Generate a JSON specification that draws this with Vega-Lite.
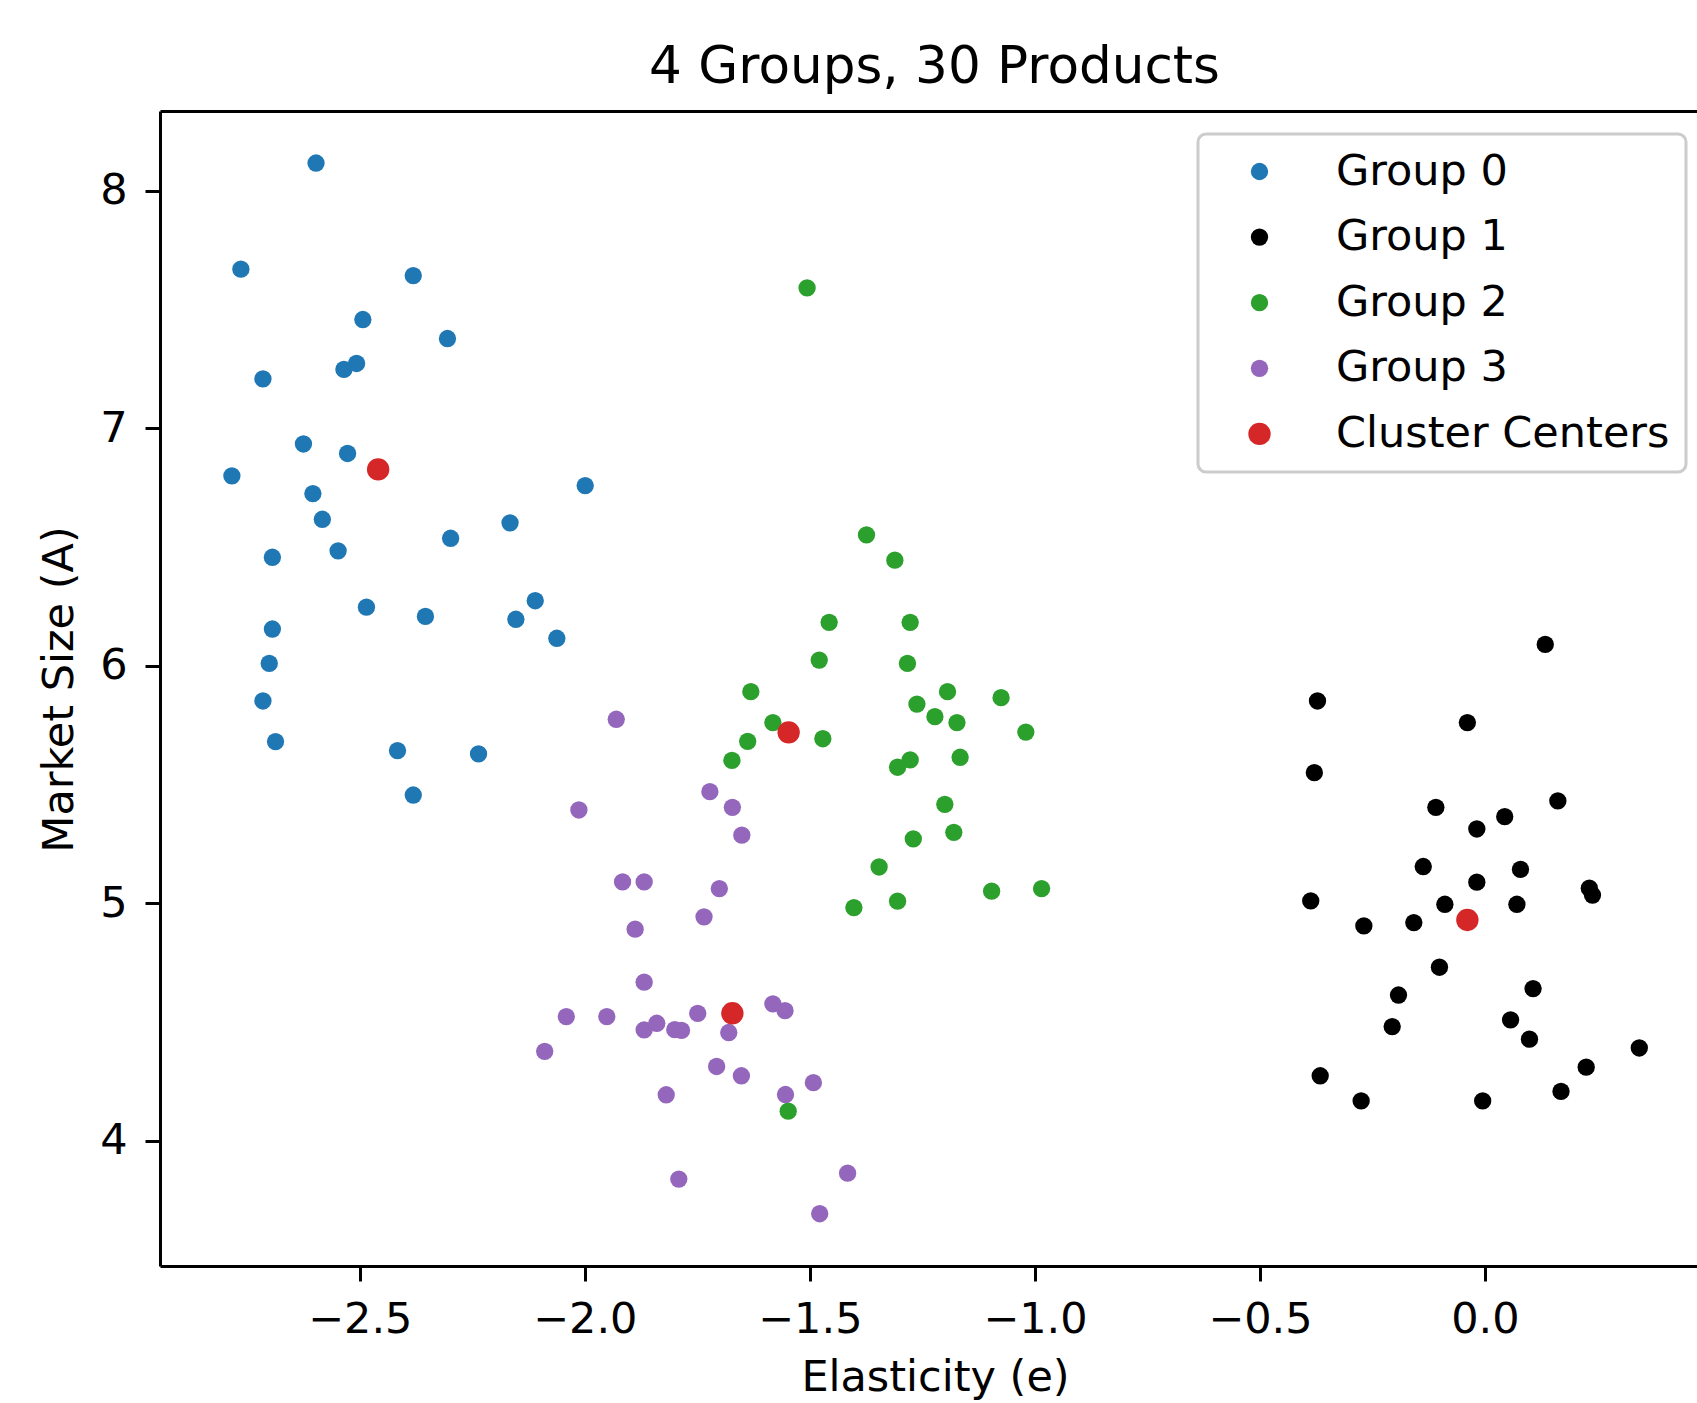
{
  "$schema": "https://vega.github.io/schema/vega-lite/v6.json",
  "autosize": {"type": "none"},
  "padding": {"left": 160, "top": 111, "right": 0, "bottom": 137},
  "width": 1537,
  "height": 1155,
  "background": "white",
  "title": {"text": "4 Groups, 30 Products", "font": "DejaVu Sans", "fontSize": 51.6, "fontWeight": "normal", "color": "black", "anchor": "middle", "frame": "group", "baseline": "alphabetic", "offset": 25, "dx": 6, "dy": 49},
  "config": {
    "view": {"stroke": null},
    "axis": {"domainColor": "black", "domainWidth": 3, "tickColor": "black", "tickWidth": 3, "tickSize": 15, "labelFont": "DejaVu Sans", "labelFontSize": 43, "labelColor": "black", "titleFont": "DejaVu Sans", "titleFontSize": 43, "titleFontWeight": "normal", "titleColor": "black", "grid": false},
    "legend": {"orient": "none", "legendX": 1038, "legendY": 23, "title": null, "padding": 16, "strokeColor": "#cccccc", "strokeWidth": 3, "cornerRadius": 8, "fillColor": "white", "labelFont": "DejaVu Sans", "labelFontSize": 43, "labelColor": "black", "labelLimit": 0, "rowPadding": 21.6, "symbolOffset": 24, "labelOffset": 55, "symbolStrokeWidth": 0, "symbolType": "circle"}
  },
  "resolve": {"axis": {"x": "independent"}},
  "layer": [
    {
      "data": {"values": [
        {"e": -2.597, "A": 8.117, "g": "Group 0"}, {"e": -2.764, "A": 7.670, "g": "Group 0"}, {"e": -2.381, "A": 7.643, "g": "Group 0"}, {"e": -2.493, "A": 7.458, "g": "Group 0"}, {"e": -2.305, "A": 7.378, "g": "Group 0"}, {"e": -2.507, "A": 7.273, "g": "Group 0"}, {"e": -2.535, "A": 7.248, "g": "Group 0"}, {"e": -2.715, "A": 7.208, "g": "Group 0"}, {"e": -2.625, "A": 6.934, "g": "Group 0"}, {"e": -2.527, "A": 6.894, "g": "Group 0"}, {"e": -2.784, "A": 6.800, "g": "Group 0"}, {"e": -2.604, "A": 6.725, "g": "Group 0"}, {"e": -1.999, "A": 6.759, "g": "Group 0"}, {"e": -2.583, "A": 6.617, "g": "Group 0"}, {"e": -2.166, "A": 6.602, "g": "Group 0"}, {"e": -2.298, "A": 6.537, "g": "Group 0"}, {"e": -2.694, "A": 6.457, "g": "Group 0"}, {"e": -2.548, "A": 6.484, "g": "Group 0"}, {"e": -2.485, "A": 6.247, "g": "Group 0"}, {"e": -2.354, "A": 6.208, "g": "Group 0"}, {"e": -2.110, "A": 6.274, "g": "Group 0"}, {"e": -2.153, "A": 6.196, "g": "Group 0"}, {"e": -2.062, "A": 6.116, "g": "Group 0"}, {"e": -2.694, "A": 6.155, "g": "Group 0"}, {"e": -2.701, "A": 6.010, "g": "Group 0"}, {"e": -2.715, "A": 5.852, "g": "Group 0"}, {"e": -2.687, "A": 5.681, "g": "Group 0"}, {"e": -2.416, "A": 5.643, "g": "Group 0"}, {"e": -2.236, "A": 5.629, "g": "Group 0"}, {"e": -2.381, "A": 5.456, "g": "Group 0"},
        {"e": 0.134, "A": 6.090, "g": "Group 1"}, {"e": -0.372, "A": 5.852, "g": "Group 1"}, {"e": -0.039, "A": 5.761, "g": "Group 1"}, {"e": -0.379, "A": 5.550, "g": "Group 1"}, {"e": -0.109, "A": 5.404, "g": "Group 1"}, {"e": 0.162, "A": 5.431, "g": "Group 1"}, {"e": 0.044, "A": 5.365, "g": "Group 1"}, {"e": -0.018, "A": 5.313, "g": "Group 1"}, {"e": -0.137, "A": 5.155, "g": "Group 1"}, {"e": 0.079, "A": 5.143, "g": "Group 1"}, {"e": -0.018, "A": 5.089, "g": "Group 1"}, {"e": 0.232, "A": 5.064, "g": "Group 1"}, {"e": 0.239, "A": 5.035, "g": "Group 1"}, {"e": -0.387, "A": 5.010, "g": "Group 1"}, {"e": -0.089, "A": 4.996, "g": "Group 1"}, {"e": 0.071, "A": 4.996, "g": "Group 1"}, {"e": -0.269, "A": 4.905, "g": "Group 1"}, {"e": -0.158, "A": 4.919, "g": "Group 1"}, {"e": -0.101, "A": 4.731, "g": "Group 1"}, {"e": -0.192, "A": 4.614, "g": "Group 1"}, {"e": 0.107, "A": 4.641, "g": "Group 1"}, {"e": -0.206, "A": 4.481, "g": "Group 1"}, {"e": 0.057, "A": 4.509, "g": "Group 1"}, {"e": 0.099, "A": 4.428, "g": "Group 1"}, {"e": 0.343, "A": 4.391, "g": "Group 1"}, {"e": 0.225, "A": 4.310, "g": "Group 1"}, {"e": -0.366, "A": 4.274, "g": "Group 1"}, {"e": 0.169, "A": 4.208, "g": "Group 1"}, {"e": -0.275, "A": 4.168, "g": "Group 1"}, {"e": -0.005, "A": 4.168, "g": "Group 1"},
        {"e": -1.506, "A": 7.591, "g": "Group 2"}, {"e": -1.374, "A": 6.551, "g": "Group 2"}, {"e": -1.311, "A": 6.445, "g": "Group 2"}, {"e": -1.457, "A": 6.183, "g": "Group 2"}, {"e": -1.277, "A": 6.183, "g": "Group 2"}, {"e": -1.479, "A": 6.024, "g": "Group 2"}, {"e": -1.283, "A": 6.010, "g": "Group 2"}, {"e": -1.631, "A": 5.891, "g": "Group 2"}, {"e": -1.582, "A": 5.761, "g": "Group 2"}, {"e": -1.471, "A": 5.693, "g": "Group 2"}, {"e": -1.638, "A": 5.682, "g": "Group 2"}, {"e": -1.673, "A": 5.602, "g": "Group 2"}, {"e": -1.194, "A": 5.891, "g": "Group 2"}, {"e": -1.075, "A": 5.866, "g": "Group 2"}, {"e": -1.262, "A": 5.839, "g": "Group 2"}, {"e": -1.222, "A": 5.786, "g": "Group 2"}, {"e": -1.173, "A": 5.761, "g": "Group 2"}, {"e": -1.020, "A": 5.721, "g": "Group 2"}, {"e": -1.277, "A": 5.604, "g": "Group 2"}, {"e": -1.305, "A": 5.573, "g": "Group 2"}, {"e": -1.166, "A": 5.615, "g": "Group 2"}, {"e": -1.200, "A": 5.417, "g": "Group 2"}, {"e": -1.180, "A": 5.299, "g": "Group 2"}, {"e": -1.270, "A": 5.271, "g": "Group 2"}, {"e": -1.346, "A": 5.153, "g": "Group 2"}, {"e": -1.305, "A": 5.009, "g": "Group 2"}, {"e": -1.402, "A": 4.982, "g": "Group 2"}, {"e": -1.096, "A": 5.051, "g": "Group 2"}, {"e": -0.985, "A": 5.062, "g": "Group 2"}, {"e": -1.548, "A": 4.125, "g": "Group 2"},
        {"e": -1.930, "A": 5.775, "g": "Group 3"}, {"e": -2.013, "A": 5.393, "g": "Group 3"}, {"e": -1.722, "A": 5.470, "g": "Group 3"}, {"e": -1.672, "A": 5.404, "g": "Group 3"}, {"e": -1.651, "A": 5.287, "g": "Group 3"}, {"e": -1.916, "A": 5.090, "g": "Group 3"}, {"e": -1.868, "A": 5.090, "g": "Group 3"}, {"e": -1.701, "A": 5.062, "g": "Group 3"}, {"e": -1.735, "A": 4.943, "g": "Group 3"}, {"e": -1.888, "A": 4.891, "g": "Group 3"}, {"e": -1.868, "A": 4.668, "g": "Group 3"}, {"e": -2.041, "A": 4.523, "g": "Group 3"}, {"e": -1.951, "A": 4.523, "g": "Group 3"}, {"e": -1.868, "A": 4.467, "g": "Group 3"}, {"e": -1.840, "A": 4.495, "g": "Group 3"}, {"e": -1.800, "A": 4.468, "g": "Group 3"}, {"e": -1.785, "A": 4.465, "g": "Group 3"}, {"e": -1.749, "A": 4.537, "g": "Group 3"}, {"e": -1.680, "A": 4.456, "g": "Group 3"}, {"e": -1.582, "A": 4.577, "g": "Group 3"}, {"e": -1.555, "A": 4.548, "g": "Group 3"}, {"e": -2.089, "A": 4.377, "g": "Group 3"}, {"e": -1.707, "A": 4.313, "g": "Group 3"}, {"e": -1.652, "A": 4.274, "g": "Group 3"}, {"e": -1.492, "A": 4.245, "g": "Group 3"}, {"e": -1.554, "A": 4.195, "g": "Group 3"}, {"e": -1.819, "A": 4.194, "g": "Group 3"}, {"e": -1.791, "A": 3.839, "g": "Group 3"}, {"e": -1.416, "A": 3.864, "g": "Group 3"}, {"e": -1.478, "A": 3.693, "g": "Group 3"}
      ]},
      "mark": {"type": "circle", "opacity": 1},
      "encoding": {
        "x": {"field": "e", "type": "quantitative", "title": "Elasticity (e)",
              "scale": {"domain": [-2.9437, 0.4712], "nice": false, "zero": false},
              "axis": {"orient": "bottom", "values": [-2.5, -2, -1.5, -1, -0.5, 0], "format": ".1f", "labelBaseline": "alphabetic", "labelPadding": 51, "titleX": 775, "titleY": 124, "titleBaseline": "alphabetic", "titleAnchor": null}},
        "y": {"field": "A", "type": "quantitative", "title": "Market Size (A)",
              "scale": {"domain": [3.473, 8.336], "nice": false, "zero": false},
              "axis": {"values": [4, 5, 6, 7, 8], "format": "d", "labelPadding": 18, "titleX": -88, "titleY": 578, "titleBaseline": "alphabetic"}},
        "color": {"field": "g", "type": "nominal",
                  "scale": {"domain": ["Group 0", "Group 1", "Group 2", "Group 3", "Cluster Centers"], "range": ["#1f77b4", "#000000", "#2ca02c", "#9467bd", "#d62728"]}},
        "size": {"field": "g", "type": "nominal",
                 "scale": {"type": "ordinal", "domain": ["Group 0", "Group 1", "Group 2", "Group 3", "Cluster Centers"], "range": [300, 300, 300, 300, 500]}}
      }
    },
    {
      "data": {"values": [
        {"e": -2.459, "A": 6.827, "g": "Cluster Centers"},
        {"e": -0.039, "A": 4.930, "g": "Cluster Centers"},
        {"e": -1.547, "A": 5.720, "g": "Cluster Centers"},
        {"e": -1.672, "A": 4.537, "g": "Cluster Centers"}
      ]},
      "mark": {"type": "circle", "opacity": 1, "size": 500, "color": "#d62728"},
      "encoding": {
        "x": {"field": "e", "type": "quantitative", "title": null,
              "scale": {"domain": [-2.9437, 0.4712], "nice": false, "zero": false},
              "axis": {"orient": "top", "labels": false, "ticks": false, "domain": true, "title": null}},
        "y": {"field": "A", "type": "quantitative", "title": "Market Size (A)",
              "scale": {"domain": [3.473, 8.336], "nice": false, "zero": false}}
      }
    }
  ]
}
